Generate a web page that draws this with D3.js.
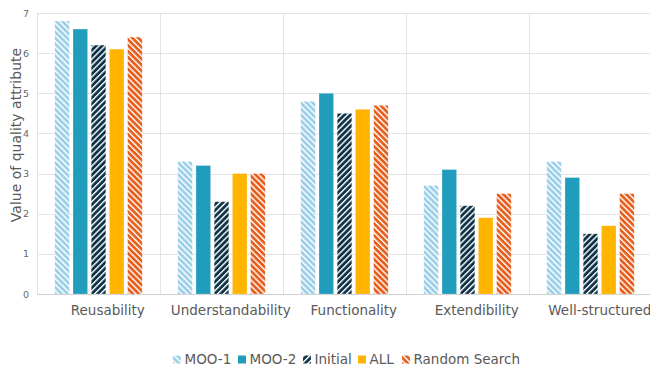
<!DOCTYPE html>
<html>
<head>
<meta charset="utf-8">
<script src="https://cdn.jsdelivr.net/npm/d3@7"></script>
<style>
  html, body { margin: 0; padding: 0; background: #fff; }
  svg { display: block; font-family: "DejaVu Sans", sans-serif; }
</style>
</head>
<body>
<svg id="chart" width="650" height="369"></svg>
<script>
// Quality attributes compared across search approaches
const categories = ["Reusability", "Understandability", "Functionality", "Extendibility", "Well-structured"];
const seriesNames = ["MOO-1", "MOO-2", "Initial", "ALL", "Random Search"];
const moo1 = [6.8, 3.3, 4.8, 2.7, 3.3];
const moo2 = [6.6, 3.2, 5.0, 3.1, 2.9];
const initial = [6.2, 2.3, 4.5, 2.2, 1.5];
const all = [6.1, 3.0, 4.6, 1.9, 1.7];
const randomSearch = [6.4, 3.0, 4.7, 2.5, 2.5];
const yTicks = [0, 1, 2, 3, 4, 5, 6, 7];

const seriesValues = [moo1, moo2, initial, all, randomSearch];
const colors = ["#9ccfe8", "#209cbc", "#0e3248", "#ffb400", "#e65f1c"];
// stripe direction per series: null = solid fill
const stripes = [-45, null, 45, null, -45];

const svg = d3.select("#chart");
const margin = { left: 37, top: 13, right: -2, bottom: 75 };
const W = 650, H = 369;

const x = d3.scaleBand().domain(categories).range([margin.left, W - margin.right]).paddingInner(0).paddingOuter(0);
const xInner = d3.scaleBand().domain(seriesNames).range([16, x.bandwidth() - 16]).paddingInner(0.2).paddingOuter(0.1);
const y = d3.scaleLinear().domain([0, 7]).range([H - margin.bottom, margin.top]);

// stripe patterns
const defs = svg.append("defs");
seriesNames.forEach((s, i) => {
  if (stripes[i] === null) return;
  const p = defs.append("pattern")
    .attr("id", "pat" + i)
    .attr("patternUnits", "userSpaceOnUse")
    .attr("width", 4.2).attr("height", 4.2)
    .attr("patternTransform", `rotate(${stripes[i]})`);
  p.append("rect").attr("width", 4.2).attr("height", 4.2).attr("fill", colors[i]);
  p.append("rect").attr("x", 0).attr("width", 1.4).attr("height", 4.2).attr("fill", "#fff");
});
const fillOf = i => stripes[i] === null ? colors[i] : `url(#pat${i})`;

// horizontal grid
svg.append("g").selectAll("line").data(yTicks).join("line")
  .attr("x1", margin.left).attr("x2", W)
  .attr("y1", d => Math.round(y(d)) + 0.5).attr("y2", d => Math.round(y(d)) + 0.5)
  .attr("stroke", d => d === 0 ? "#d0d0d0" : "#e3e3e3").attr("stroke-width", 1);

// vertical category separators
const seps = categories.map(c => x(c)).concat([x(categories[categories.length - 1]) + x.bandwidth()]);
svg.append("g").selectAll("line").data(seps).join("line")
  .attr("x1", d => Math.round(d) + 0.5).attr("x2", d => Math.round(d) + 0.5)
  .attr("y1", y(7)).attr("y2", y(0))
  .attr("stroke", "#e3e3e3").attr("stroke-width", 1);

// y axis labels
const yAxis = d3.axisLeft(y).tickValues(yTicks).tickFormat(d3.format("d")).tickSize(0).tickPadding(8);
const gy = svg.append("g").attr("transform", `translate(${margin.left},0)`).call(yAxis);
gy.select(".domain").remove();
gy.selectAll("text").attr("fill", "#666").style("font-size", "9.5px").style("font-family", "DejaVu Sans");

// x axis labels (set slightly right of the band centre)
const xAxis = d3.axisBottom(x).tickSize(0).tickPadding(11);
const gx = svg.append("g").attr("transform", `translate(0,${y(0)})`).call(xAxis);
gx.select(".domain").remove();
gx.selectAll("text").attr("fill", "#595959").attr("dx", 9.3)
  .style("font-size", "13.5px").style("font-family", "DejaVu Sans");

// bars
const groups = svg.append("g").selectAll("g").data(categories).join("g")
  .attr("transform", c => `translate(${x(c)},0)`);
groups.selectAll("rect").data((c, ci) => seriesNames.map((s, si) => ({ s, si, v: seriesValues[si][ci] })))
  .join("rect")
  .attr("x", d => xInner(d.s))
  .attr("width", xInner.bandwidth())
  .attr("y", d => y(d.v))
  .attr("height", d => y(0) - y(d.v))
  .attr("fill", d => fillOf(d.si))
  .attr("stroke", "#fff").attr("stroke-opacity", 0.35).attr("stroke-width", 0.6);

// y axis title
svg.append("text")
  .attr("transform", `translate(20.5,135) rotate(-90)`)
  .attr("text-anchor", "middle")
  .attr("fill", "#595959")
  .style("font-size", "14px")
  .text("Value of quality attribute");

// legend
const legendX = [173, 238, 303, 358, 402];
const lg = svg.append("g").selectAll("g").data(seriesNames).join("g")
  .attr("transform", (d, i) => `translate(${legendX[i]},355.5)`);
lg.append("rect").attr("width", 8).attr("height", 8).attr("fill", (d, i) => fillOf(i));
lg.append("text").attr("x", 11.5).attr("y", 8.5).attr("fill", "#595959")
  .style("font-size", "13.5px").text(d => d);
</script>
</body>
</html>
